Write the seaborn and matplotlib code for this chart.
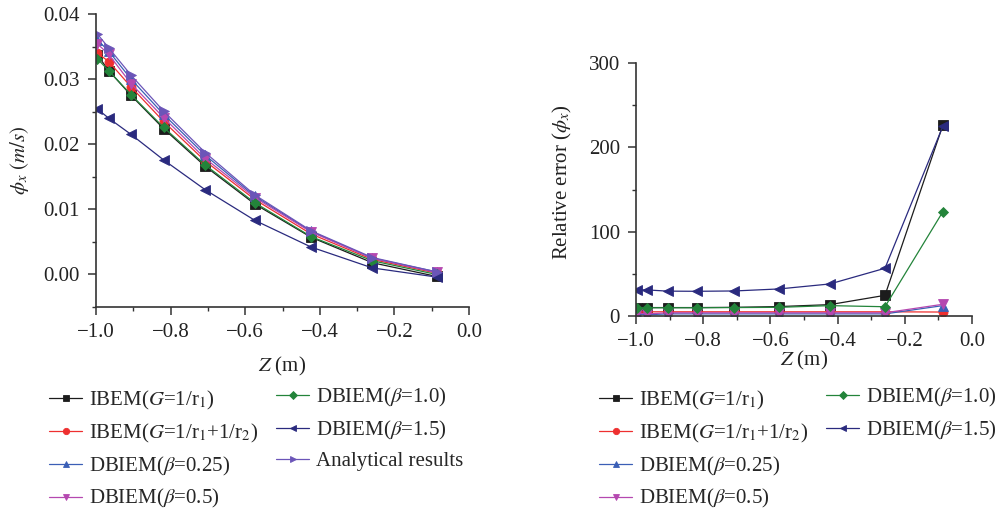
import matplotlib
matplotlib.use("Agg")
import matplotlib.pyplot as plt
from matplotlib.ticker import MultipleLocator, FormatStrFormatter
import seaborn as sns
import pandas as pd

# Sample depths along the pile (m)
z = [-0.996, -0.966, -0.906, -0.819, -0.707, -0.574, -0.423, -0.259, -0.087]

# Horizontal velocity phi_x (m/s)
phi_ibem1 = [0.0337, 0.0313, 0.0275, 0.0224, 0.0166, 0.0108, 0.0057, 0.0018, -0.0003]
phi_ibem2 = [0.0340, 0.0327, 0.0288, 0.0235, 0.0174, 0.0115, 0.0062, 0.0023, 0.0002]
phi_b025 = [0.0360, 0.0343, 0.0300, 0.0246, 0.0183, 0.0120, 0.0066, 0.0025, 0.0004]
phi_b05 = [0.0354, 0.0338, 0.0293, 0.0241, 0.0178, 0.0118, 0.0065, 0.0025, 0.0003]
phi_b10 = [0.0331, 0.0313, 0.0276, 0.0226, 0.0168, 0.0110, 0.0058, 0.0021, 0.0000]
phi_b15 = [0.0254, 0.0240, 0.0215, 0.0176, 0.0130, 0.0083, 0.0042, 0.0010, -0.0004]
phi_exact = [0.0369, 0.0348, 0.0306, 0.0251, 0.0187, 0.0122, 0.0067, 0.0026, 0.0004]

# Relative error of phi_x (%)
err_ibem1 = [10.0, 10.0, 10.0, 10.0, 10.3, 11.2, 13.5, 24.5, 226.0]
err_ibem2 = [5.0, 5.0, 5.0, 5.0, 5.0, 5.0, 5.0, 5.0, 4.7]
err_b025 = [2.5, 1.5, 2.5, 2.5, 2.5, 2.5, 2.5, 2.5, 12.3]
err_b05 = [3.5, 2.5, 3.8, 3.8, 3.8, 3.8, 3.8, 3.8, 13.9]
err_b10 = [9.8, 9.8, 9.8, 9.8, 10.0, 10.3, 12.3, 11.0, 123.5]
err_b15 = [30.9, 30.9, 29.5, 29.3, 29.7, 32.1, 38.0, 56.6, 224.8]

x_ticks = [-1.0, -0.8, -0.6, -0.4, -0.2, 0.0]
x_ticklabels = ["−1.0", "−0.8", "−0.6", "−0.4", "−0.2", "0.0"]

labels = [r"IBEM($G$=1/r$_1$)", r"IBEM($G$=1/r$_1$+1/r$_2$)",
          r"DBIEM($\beta$=0.25)", r"DBIEM($\beta$=0.5)",
          r"DBIEM($\beta$=1.0)", r"DBIEM($\beta$=1.5)", "Analytical results"]
colors = ["#1c1c1c", "#ee2f2f", "#3b5fb6", "#b548b0", "#23843a", "#2a2a7e", "#6b55b8"]
markers = ["s", "o", "^", "v", "D", "<", ">"]

sns.set_theme(style="ticks")
plt.rcParams["font.family"] = ["Liberation Serif", "DejaVu Serif"]
plt.rcParams["mathtext.fontset"] = "stix"
plt.rcParams["axes.unicode_minus"] = True

FS = 15
TXT = "#222222"

fig = plt.figure(figsize=(10, 5.14), dpi=100)
ax1 = fig.add_axes([0.096, 0.4027, 0.373, 0.5701])
ax2 = fig.add_axes([0.636, 0.3852, 0.336, 0.4922])


def draw(ax, series, names):
    for vals, lab in zip(series, names):
        i = labels.index(lab)
        df = pd.DataFrame({"z": z, "v": vals})
        sns.lineplot(data=df, x="z", y="v", ax=ax, color=colors[i], marker=markers[i],
                     markersize=6.5 if markers[i] != "D" else 5.5, markeredgewidth=0.6,
                     markeredgecolor=colors[i], linewidth=0.9, label=lab, legend=False)


draw(ax1, [phi_ibem1, phi_ibem2, phi_b025, phi_b05, phi_b10, phi_b15, phi_exact], labels)
draw(ax2, [err_ibem1, err_ibem2, err_b025, err_b05, err_b10, err_b15], labels[:6])


def style(ax):
    sns.despine(ax=ax)
    for s in ("left", "bottom"):
        ax.spines[s].set_linewidth(1.2)
        ax.spines[s].set_color("#333333")
    ax.set_xlim(-1.0, 0.0)
    ax.set_xticks(x_ticks)
    ax.set_xticklabels(x_ticklabels)
    ax.xaxis.set_minor_locator(MultipleLocator(0.1))
    ax.tick_params(which="major", direction="out", length=5.5, width=1.1, color="#333333",
                   labelsize=FS, pad=6, labelcolor=TXT)
    ax.tick_params(which="minor", direction="out", length=3, width=1.0, color="#333333")


style(ax1)
ax1.set_ylim(-0.005, 0.04)
ax1.yaxis.set_major_locator(MultipleLocator(0.01))
ax1.yaxis.set_minor_locator(MultipleLocator(0.005))
ax1.yaxis.set_major_formatter(FormatStrFormatter("%.2f"))
ax1.set_ylabel(r"$\phi_x\ (m/s)$", fontsize=FS, color=TXT)
ax1.yaxis.set_label_coords(-0.175, 0.5)
ax1.set_xlabel(r"$Z$ (m)", fontsize=FS, color=TXT)
ax1.xaxis.set_label_coords(0.5, -0.165)

style(ax2)
ax2.set_ylim(0, 300)
ax2.yaxis.set_major_locator(MultipleLocator(100))
ax2.yaxis.set_minor_locator(MultipleLocator(50))
ax2.set_ylabel(r"Relative error ($\phi_x$)", fontsize=FS, color=TXT)
ax2.yaxis.set_label_coords(-0.185, 0.53)
ax2.set_xlabel(r"$Z$ (m)", fontsize=FS, color=TXT)
ax2.xaxis.set_label_coords(0.5, -0.13)

legend_kw = dict(frameon=False, fontsize=FS, handlelength=1.6, handletextpad=0.3,
                 borderpad=0, labelspacing=0.47, numpoints=1, borderaxespad=0,
                 loc="upper left", markerscale=0.7)

h1, l1 = ax1.get_legend_handles_labels()
fig.legend(h1[:4], l1[:4], bbox_to_anchor=(0.049, 1 - 389 / 514), **legend_kw)
fig.legend(h1[4:], l1[4:], bbox_to_anchor=(0.276, 1 - 386 / 514), **legend_kw)

h2, l2 = ax2.get_legend_handles_labels()
fig.legend(h2[:4], l2[:4], bbox_to_anchor=(0.599, 1 - 389 / 514), **legend_kw)
fig.legend(h2[4:], l2[4:], bbox_to_anchor=(0.826, 1 - 386 / 514), **legend_kw)

fig.savefig("out.png", dpi=100)
